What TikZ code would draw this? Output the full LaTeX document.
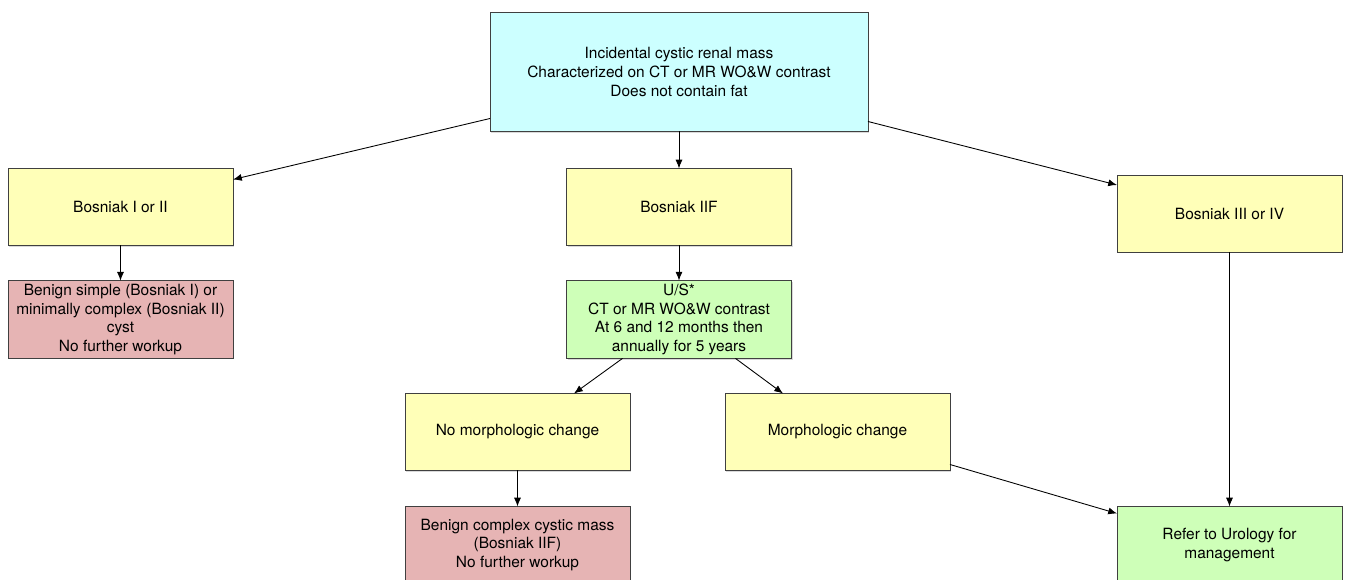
\documentclass[tikz,border=0pt]{standalone}
\usepackage{fontspec}
\setmainfont{TeX Gyre Heros}
\usetikzlibrary{shadows,arrows.meta}

\definecolor{topcyan}{RGB}{204,255,255}
\definecolor{boxyellow}{RGB}{255,255,184}
\definecolor{boxpink}{RGB}{230,180,180}
\definecolor{boxgreen}{RGB}{206,255,184}

\tikzset{
  box/.style={draw=black!75, line width=0.5pt, align=center, outer sep=0pt,
    minimum width=4.5cm, minimum height=1.54cm, inner sep=2pt,
    font=\fontsize{8.8}{10.6}\selectfont,
    drop shadow={shadow xshift=0.7pt, shadow yshift=-0.7pt, opacity=0.3}},
  startbox/.style={box, fill=topcyan, minimum width=7.56cm, minimum height=2.38cm},
  classbox/.style={box, fill=boxyellow},
  donebox/.style={box, fill=boxpink},
  actbox/.style={box, fill=boxgreen},
  arr/.style={-{Latex[length=5pt,width=4pt]}, line width=0.5pt, black}
}

\begin{document}
\begin{tikzpicture}[x=0.02cm, y=-0.02cm]

\clip (0,0) rectangle (1347,580);
\useasboundingbox (0,0) rectangle (1347,580);

% start
\node[startbox] (mass) at (679,72) {Incidental cystic renal mass\\Characterized on CT or MR WO\&W contrast\\Does not contain fat};

% Bosniak classes
\node[classbox] (bos12) at (120.5,207) {Bosniak I or II};
\node[classbox] (bos2f) at (679,207) {Bosniak IIF};
\node[classbox] (bos34) at (1229.5,213.5) {Bosniak III or IV};

\node[donebox] (simple) at (120.5,319.5) {Benign simple (Bosniak I) or\\minimally complex (Bosniak II)\\cyst\\No further workup};
\node[actbox] (follow) at (679,319.5) {U/S*\\CT or MR WO\&W contrast\\At 6 and 12 months then\\annually for 5 years};

\node[classbox] (nochange) at (517.5,432) {No morphologic change};
\node[classbox] (change) at (837.5,432) {Morphologic change};

\node[donebox] (complex) at (517.5,545) {Benign complex cystic mass\\(Bosniak IIF)\\No further workup};
\node[actbox] (urology) at (1229.5,545) {Refer to Urology for\\management};

% arrows
\draw[arr] ([shift={(0,-13)}]mass.south west) -- ([shift={(0,11)}]bos12.north east);
\draw[arr] (mass.south) -- (bos2f.north);
\draw[arr] ([shift={(0,-10)}]mass.south east) -- ([shift={(0,10)}]bos34.north west);

\draw[arr] (bos12.south) -- (simple.north);
\draw[arr] (bos2f.south) -- (follow.north);

\draw[arr] ([shift={(56,0)}]follow.south west) -- ([shift={(-56,0)}]nochange.north east);
\draw[arr] ([shift={(-56,0)}]follow.south east) -- ([shift={(58,0)}]change.north west);

\draw[arr] (nochange.south) -- (complex.north);
\draw[arr] ([shift={(0,-6)}]change.south east) -- ([shift={(0,7)}]urology.north west);
\draw[arr] (bos34.south) -- (urology.north);

\end{tikzpicture}
\end{document}
